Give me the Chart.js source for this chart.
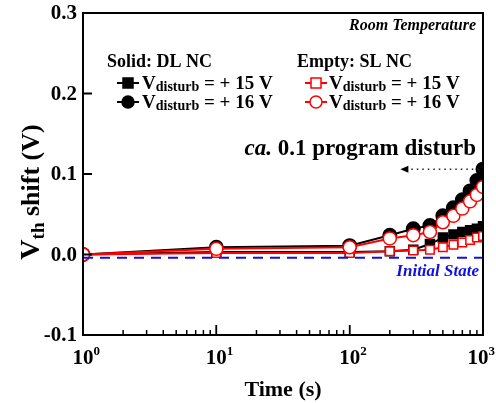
<!DOCTYPE html>
<html>
<head>
<meta charset="utf-8">
<script src="https://cdn.jsdelivr.net/npm/chart.js@4.4.1/dist/chart.umd.min.js"></script>
<style>
  html, body { margin: 0; padding: 0; background: #fff; }
  canvas { display: block; }
</style>
</head>
<body>
<canvas id="vthChart" width="496" height="403"></canvas>
<script>
// meetpunten (tijd in s) en Vth shift per curve
const times = [1, 10, 100, 200, 300, 400, 500, 600, 700, 800, 900, 1000];
const dl15 = [0, 0.003, 0.003, 0.004, 0.006, 0.013, 0.021, 0.025, 0.028, 0.030, 0.032, 0.035];
const dl16 = [0, 0.009, 0.011, 0.024, 0.032, 0.036, 0.048, 0.058, 0.068, 0.079, 0.092, 0.106];
const sl15 = [0, 0.002, 0.002, 0.004, 0.005, 0.006, 0.009, 0.012, 0.015, 0.018, 0.021, 0.023];
const sl16 = [0, 0.007, 0.009, 0.020, 0.024, 0.028, 0.040, 0.048, 0.057, 0.066, 0.074, 0.084];
const initialLevel = -0.004;

// as-labels
const yTicks = [-0.1, 0.0, 0.1, 0.2, 0.3];
const xTicks = [1, 10, 100, 1000];
const xExponents = ['0', '1', '2', '3'];

// pijl "ca. 0.1 program disturb"
const arrowFromX = 930;
const arrowToX = 240;
const arrowY = 0.106;

const SERIF = '"Liberation Serif", "Times New Roman", serif';

function toPoints(values) {
  return times.map((t, i) => ({ x: t, y: values[i] }));
}

// tekst met sub/superscript stukjes achter elkaar tekenen
function drawRich(ctx, x, y, parts) {
  let cx = x;
  for (const p of parts) {
    ctx.font = (p.italic ? 'italic ' : '') + 'bold ' + p.size + 'px ' + SERIF;
    ctx.fillText(p.t, cx, y + (p.dy || 0));
    cx += ctx.measureText(p.t).width;
  }
  return cx;
}

function richWidth(ctx, parts) {
  let w = 0;
  for (const p of parts) {
    ctx.font = (p.italic ? 'italic ' : '') + 'bold ' + p.size + 'px ' + SERIF;
    w += ctx.measureText(p.t).width;
  }
  return w;
}

function legendMarker(ctx, x, y, color, style, filled) {
  ctx.save();
  ctx.strokeStyle = color;
  ctx.lineWidth = 2;
  ctx.beginPath();
  ctx.moveTo(x - 11, y);
  ctx.lineTo(x + 11, y);
  ctx.stroke();
  ctx.fillStyle = filled ? color : '#fff';
  ctx.lineWidth = 1.5;
  ctx.beginPath();
  if (style === 'rect') {
    ctx.rect(x - 5, y - 5, 10, 10);
  } else {
    ctx.arc(x, y, 6, 0, Math.PI * 2);
  }
  ctx.fill();
  ctx.stroke();
  ctx.restore();
}

function legendText(ctx, x, y, volt) {
  drawRich(ctx, x, y, [
    { t: 'V', size: 19 },
    { t: 'disturb', size: 14, dy: 2 },
    { t: ' = + ' + volt + ' V', size: 19 }
  ]);
}

const framePlugin = {
  id: 'frame',
  afterDraw(chart) {
    const ctx = chart.ctx;
    const a = chart.chartArea;
    const xs = chart.scales.x;
    const ys = chart.scales.y;
    ctx.save();
    ctx.fillStyle = '#000';
    ctx.strokeStyle = '#000';

    // kader
    ctx.lineWidth = 2;
    ctx.strokeRect(a.left, a.top, a.right - a.left, a.bottom - a.top);

    // y ticks naar binnen
    ctx.lineWidth = 2;
    ctx.textAlign = 'right';
    ctx.textBaseline = 'middle';
    ctx.font = 'bold 21px ' + SERIF;
    for (const v of yTicks) {
      const py = ys.getPixelForValue(v);
      ctx.beginPath();
      ctx.moveTo(a.left, py);
      ctx.lineTo(a.left + 9, py);
      ctx.stroke();
      ctx.fillText(v.toFixed(1), a.left - 6, py + 1);
    }

    // x ticks (log), major en minor naar binnen
    ctx.lineWidth = 1.5;
    for (let d = 1; d < 1000; d *= 10) {
      for (let m = 1; m <= 10; m++) {
        const px = xs.getPixelForValue(d * m);
        const len = (m === 1 || m === 10) ? 10 : 5;
        ctx.beginPath();
        ctx.moveTo(px, a.bottom);
        ctx.lineTo(px, a.bottom - len);
        ctx.stroke();
      }
    }
    ctx.textAlign = 'left';
    ctx.textBaseline = 'alphabetic';
    xTicks.forEach((v, i) => {
      const px = xs.getPixelForValue(v);
      const parts = [{ t: '10', size: 21 }, { t: xExponents[i], size: 13, dy: -9 }];
      const w = richWidth(ctx, [parts[0]]);
      const shift = i === xTicks.length - 1 ? 5 : 0;
      drawRich(ctx, px - w / 2 - shift, a.bottom + 29, parts);
    });

    // as-titels
    ctx.textAlign = 'center';
    ctx.font = 'bold 22px ' + SERIF;
    ctx.fillText('Time (s)', (a.left + a.right) / 2, 396);

    ctx.save();
    ctx.translate(29, 192);
    ctx.rotate(-Math.PI / 2);
    ctx.textAlign = 'left';
    const yTitle = [
      { t: 'V', size: 28 },
      { t: 'th', size: 19, dy: 5 },
      { t: ' shift (V)', size: 26 }
    ];
    drawRich(ctx, -richWidth(ctx, yTitle) / 2, 10, yTitle);
    ctx.restore();

    // Room Temperature
    ctx.textAlign = 'right';
    ctx.font = 'italic bold 16px ' + SERIF;
    ctx.fillText('Room Temperature', a.right - 7, 30);

    // legenda
    ctx.textAlign = 'left';
    ctx.font = 'bold 18px ' + SERIF;
    ctx.fillText('Solid: DL NC', 107, 67);
    ctx.fillText('Empty: SL NC', 297, 67);
    legendMarker(ctx, 128, 83, '#000', 'rect', true);
    legendMarker(ctx, 128, 102, '#000', 'circle', true);
    legendMarker(ctx, 316, 83, '#ff0000', 'rect', false);
    legendMarker(ctx, 316, 102, '#ff0000', 'circle', false);
    ctx.fillStyle = '#000';
    legendText(ctx, 142, 89, '15');
    legendText(ctx, 142, 108, '16');
    legendText(ctx, 329, 89, '15');
    legendText(ctx, 329, 108, '16');

    // annotatie
    ctx.textAlign = 'left';
    const ann = [
      { t: 'ca.', size: 23, italic: true },
      { t: ' 0.1 program disturb', size: 23 }
    ];
    drawRich(ctx, a.right - 7 - richWidth(ctx, ann), 155, ann);

    const ax0 = xs.getPixelForValue(arrowFromX);
    const ax1 = xs.getPixelForValue(arrowToX);
    const ay = ys.getPixelForValue(arrowY);
    ctx.strokeStyle = '#222';
    ctx.lineWidth = 1.5;
    ctx.setLineDash([1.5, 4]);
    ctx.beginPath();
    ctx.moveTo(ax0, ay);
    ctx.lineTo(ax1 + 6, ay);
    ctx.stroke();
    ctx.setLineDash([]);
    ctx.fillStyle = '#000';
    ctx.beginPath();
    ctx.moveTo(ax1, ay);
    ctx.lineTo(ax1 + 8, ay - 3.5);
    ctx.lineTo(ax1 + 8, ay + 3.5);
    ctx.closePath();
    ctx.fill();

    // Initial State
    ctx.fillStyle = '#1010e0';
    ctx.textAlign = 'right';
    ctx.font = 'italic bold 17px ' + SERIF;
    ctx.fillText('Initial State', a.right - 4, 276);

    ctx.restore();
  }
};

const ctx = document.getElementById('vthChart').getContext('2d');
new Chart(ctx, {
  type: 'line',
  data: {
    datasets: [
      {
        label: 'Initial State',
        data: [{ x: 1, y: initialLevel }, { x: 1000, y: initialLevel }],
        borderColor: '#1010e0',
        borderWidth: 2,
        borderDash: [10, 7],
        pointRadius: 0
      },
      {
        label: 'SL NC +16 V',
        data: toPoints(sl16),
        borderColor: '#ff0000',
        backgroundColor: '#ffffff',
        borderWidth: 2,
        pointStyle: 'circle',
        pointRadius: 6.5,
        pointBorderWidth: 1.5
      },
      {
        label: 'SL NC +15 V',
        data: toPoints(sl15),
        borderColor: '#ff0000',
        backgroundColor: '#ffffff',
        borderWidth: 2,
        pointStyle: 'rect',
        pointRadius: 6,
        pointBorderWidth: 1.5
      },
      {
        label: 'DL NC +16 V',
        data: toPoints(dl16),
        borderColor: '#000',
        backgroundColor: '#000',
        borderWidth: 2,
        pointStyle: 'circle',
        pointRadius: 6.5
      },
      {
        label: 'DL NC +15 V',
        data: toPoints(dl15),
        borderColor: '#000',
        backgroundColor: '#000',
        borderWidth: 2,
        pointStyle: 'rect',
        pointRadius: 6
      }
    ]
  },
  options: {
    responsive: false,
    animation: false,
    devicePixelRatio: 1,
    clip: 0,
    layout: { padding: { left: 83, right: 13, top: 13, bottom: 68 } },
    plugins: {
      legend: { display: false },
      tooltip: { enabled: false }
    },
    scales: {
      x: { type: 'logarithmic', min: 1, max: 1000, display: false },
      y: { type: 'linear', min: -0.1, max: 0.3, display: false }
    }
  },
  plugins: [framePlugin]
});
</script>
</body>
</html>
